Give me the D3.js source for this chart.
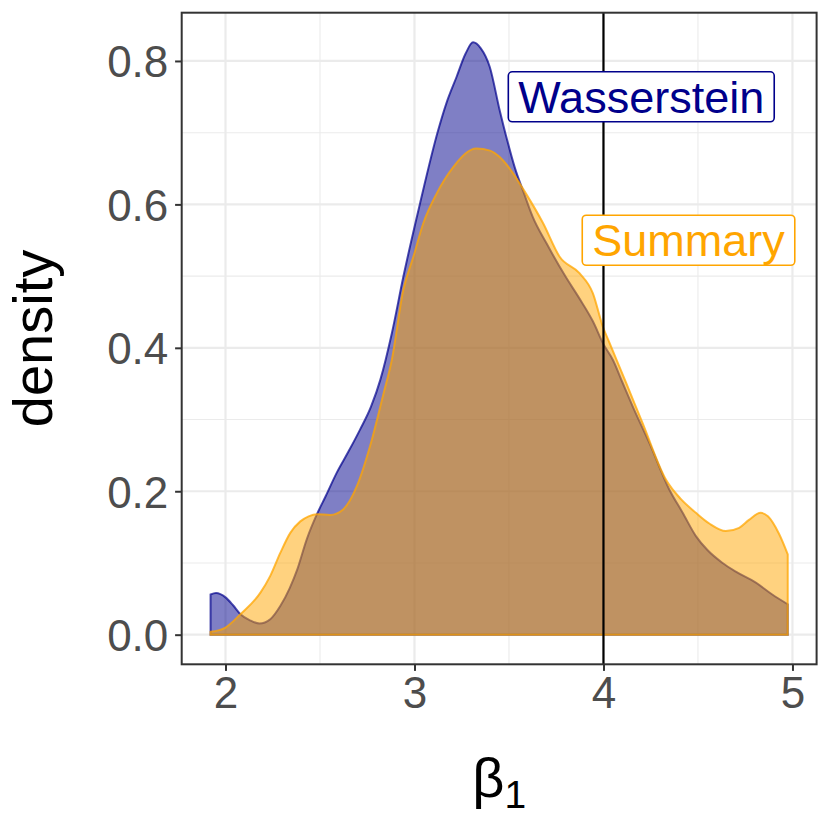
<!DOCTYPE html>
<html>
<head>
<meta charset="utf-8">
<script src="https://cdn.jsdelivr.net/npm/d3@7"></script>
<style>
  body { margin: 0; background: #fff; }
  text { font-family: "Liberation Sans", Arial, Helvetica, sans-serif; }
</style>
</head>
<body>
<svg id="chart"></svg>
<script>
// density estimates (beta_1)
var wassX = [1.921, 1.95, 2.00, 2.04, 2.079, 2.13, 2.18, 2.237, 2.29, 2.34, 2.38, 2.43, 2.484, 2.53, 2.589, 2.65, 2.712, 2.77, 2.82, 2.88,
             2.941, 3.029, 3.126, 3.17, 3.223, 3.27, 3.31, 3.35, 3.398, 3.451, 3.49, 3.53, 3.58, 3.625, 3.70, 3.80, 3.87, 3.944, 4.00,
             4.05, 4.10, 4.155, 4.243, 4.348, 4.419, 4.489, 4.55, 4.63, 4.70, 4.806, 4.893, 4.975];
var wassY = [0.056, 0.058, 0.052, 0.041, 0.0285, 0.020, 0.0156, 0.0216, 0.040, 0.065, 0.091, 0.133, 0.168, 0.193, 0.226, 0.255, 0.286, 0.318, 0.356, 0.420,
             0.499, 0.601, 0.704, 0.742, 0.778, 0.810, 0.826, 0.818, 0.792, 0.731, 0.690, 0.652, 0.615, 0.583, 0.545, 0.499, 0.470, 0.437, 0.405,
             0.383, 0.352, 0.318, 0.267, 0.2025, 0.170, 0.1375, 0.118, 0.100, 0.088, 0.0726, 0.056, 0.0424];

var summX = [1.921, 2.00, 2.079, 2.185, 2.237, 2.29, 2.343, 2.396, 2.44, 2.484, 2.554, 2.624, 2.695, 2.765, 2.835, 2.88, 2.941, 2.994,
             3.047, 3.117, 3.205, 3.328, 3.40, 3.451, 3.504, 3.59, 3.68, 3.768, 3.873, 3.944, 3.996, 4.032, 4.12, 4.207, 4.331, 4.41, 4.489,
             4.56, 4.647, 4.718, 4.77, 4.832, 4.87, 4.93, 4.975];
var summY = [0.004, 0.010, 0.0285, 0.0587, 0.082, 0.114, 0.142, 0.158, 0.165, 0.168, 0.167, 0.175, 0.207, 0.263, 0.335, 0.383, 0.481, 0.527,
             0.574, 0.615, 0.652, 0.678, 0.675, 0.666, 0.650, 0.615, 0.574, 0.527, 0.504, 0.476, 0.430, 0.407, 0.351, 0.295, 0.216, 0.189, 0.170,
             0.155, 0.1445, 0.149, 0.160, 0.170, 0.165, 0.140, 0.112];

var xTicks = [2, 3, 4, 5];
var xMinor = [2.5, 3.5, 4.5];
var yTicks = [0, 0.2, 0.4, 0.6, 0.8];
var yMinor = [0.1, 0.3, 0.5, 0.7];

var trueBeta = 4;
var labelNames = ["Wasserstein", "Summary"];
var labelX = [4.2, 4.45];
var labelY = [0.75, 0.55];

var width = 830, height = 830;
var margin = { top: 12.7, right: 13.4, bottom: 165.7, left: 181.7 };

var svg = d3.select("#chart")
    .attr("width", width)
    .attr("height", height);

var wass = wassX.map((x, i) => ({ x: x, y: wassY[i] }));
var summ = summX.map((x, i) => ({ x: x, y: summY[i] }));

// ggplot-style 5% expansion of the data range
var xExt = [d3.min(wassX.concat(summX)), d3.max(wassX.concat(summX))];
var xPad = (xExt[1] - xExt[0]) * 0.05;
var yMax = d3.max(wassY.concat(summY));

var xScale = d3.scaleLinear()
    .domain([xExt[0] - xPad, xExt[1] + xPad])
    .range([margin.left, width - margin.right]);

var yScale = d3.scaleLinear()
    .domain([-yMax * 0.05, yMax * 1.05])
    .range([height - margin.bottom, margin.top]);

var panelTop = margin.top, panelBottom = height - margin.bottom;
var panelLeft = margin.left, panelRight = width - margin.right;

// grid
var grid = svg.append("g");
grid.selectAll(".xminor").data(xMinor).enter().append("line")
    .attr("x1", d => xScale(d)).attr("x2", d => xScale(d))
    .attr("y1", panelTop).attr("y2", panelBottom)
    .attr("stroke", "#EBEBEB").attr("stroke-width", 1.1);
grid.selectAll(".yminor").data(yMinor).enter().append("line")
    .attr("y1", d => yScale(d)).attr("y2", d => yScale(d))
    .attr("x1", panelLeft).attr("x2", panelRight)
    .attr("stroke", "#EBEBEB").attr("stroke-width", 1.1);
grid.selectAll(".xmajor").data(xTicks).enter().append("line")
    .attr("x1", d => xScale(d)).attr("x2", d => xScale(d))
    .attr("y1", panelTop).attr("y2", panelBottom)
    .attr("stroke", "#EBEBEB").attr("stroke-width", 2.2);
grid.selectAll(".ymajor").data(yTicks).enter().append("line")
    .attr("y1", d => yScale(d)).attr("y2", d => yScale(d))
    .attr("x1", panelLeft).attr("x2", panelRight)
    .attr("stroke", "#EBEBEB").attr("stroke-width", 2.2);

// densities
var area = d3.area()
    .x(d => xScale(d.x))
    .y0(yScale(0))
    .y1(d => yScale(d.y))
    .curve(d3.curveMonotoneX);

svg.append("path")
    .datum(wass)
    .attr("d", area)
    .attr("fill", "#00008B").attr("fill-opacity", 0.5)
    .attr("stroke", "#00008B").attr("stroke-opacity", 0.7)
    .attr("stroke-width", 2);

svg.append("path")
    .datum(summ)
    .attr("d", area)
    .attr("fill", "#FFA500").attr("fill-opacity", 0.5)
    .attr("stroke", "#FFA500").attr("stroke-opacity", 0.75)
    .attr("stroke-width", 2);

// true value
svg.append("line")
    .attr("x1", xScale(trueBeta)).attr("x2", xScale(trueBeta))
    .attr("y1", panelTop).attr("y2", panelBottom)
    .attr("stroke", "#000").attr("stroke-width", 2.2);

// labels
var labelColors = ["#00008B", "#FFA500"];
labelNames.forEach(function (name, i) {
  var g = svg.append("g");
  var rect = g.append("rect");
  var t = g.append("text")
      .attr("x", xScale(labelX[i]))
      .attr("y", yScale(labelY[i]))
      .attr("dy", "0.35em")
      .attr("text-anchor", "middle")
      .attr("font-size", 45)
      .attr("fill", labelColors[i])
      .text(name);
  var w = t.node().getComputedTextLength() + 20;
  rect.attr("x", xScale(labelX[i]) - w / 2)
      .attr("y", yScale(labelY[i]) - 25)
      .attr("width", w).attr("height", 50)
      .attr("rx", 4).attr("ry", 4)
      .attr("fill", "#fff")
      .attr("stroke", labelColors[i]).attr("stroke-width", 1.6);
});

// panel border
svg.append("rect")
    .attr("x", panelLeft).attr("y", panelTop)
    .attr("width", panelRight - panelLeft).attr("height", panelBottom - panelTop)
    .attr("fill", "none").attr("stroke", "#333333").attr("stroke-width", 2);

// axes
var xAxis = d3.axisBottom(xScale).tickValues(xTicks).tickFormat(d3.format("d"))
    .tickSize(6.6).tickPadding(6.2);
var gx = svg.append("g")
    .attr("transform", "translate(0," + panelBottom + ")")
    .call(xAxis);

var yAxis = d3.axisLeft(yScale).tickValues(yTicks).tickFormat(d3.format(".1f"))
    .tickSize(6.6).tickPadding(6.8);
var gy = svg.append("g")
    .attr("transform", "translate(" + panelLeft + ",0)")
    .call(yAxis);

[gx, gy].forEach(function (g) {
  g.select(".domain").remove();
  g.selectAll(".tick line").attr("stroke", "#333333").attr("stroke-width", 2);
  g.selectAll(".tick text")
      .attr("font-size", 44)
      .attr("fill", "#4D4D4D")
      .style("font-family", "'Liberation Sans', Arial, sans-serif");
});
gy.selectAll(".tick text").attr("dy", "0.36em");

// axis titles
svg.append("text")
    .attr("transform", "translate(" + 52 + "," + ((panelTop + panelBottom) / 2) + ") rotate(-90)")
    .attr("text-anchor", "middle")
    .attr("font-size", 56)
    .attr("fill", "#000")
    .text("density");

var xt = svg.append("text")
    .attr("x", (panelLeft + panelRight) / 2)
    .attr("y", 797)
    .attr("text-anchor", "middle")
    .attr("font-size", 56)
    .attr("fill", "#000");
xt.append("tspan").text("β");
xt.append("tspan").attr("font-size", 39).attr("dy", 11).text("1");
</script>
</body>
</html>
